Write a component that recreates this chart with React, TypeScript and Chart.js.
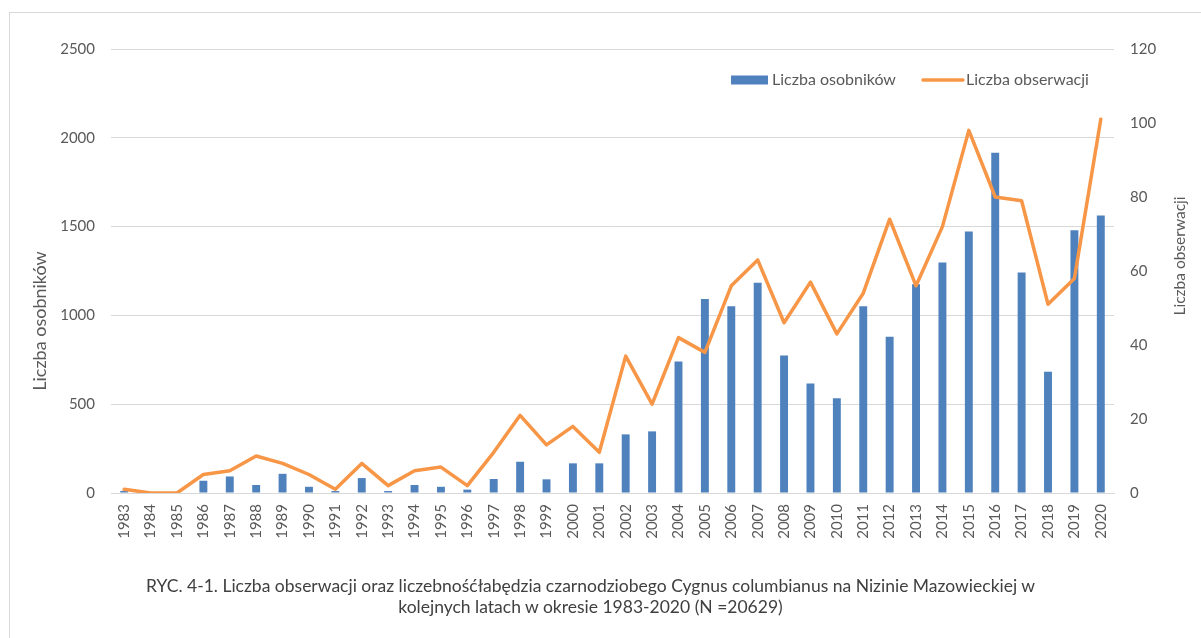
import React, { useEffect, useRef } from "react";
import { Chart, registerables } from "chart.js";

Chart.register(...registerables);

const years: string[] = [
  "1983", "1984", "1985", "1986", "1987", "1988", "1989", "1990", "1991", "1992",
  "1993", "1994", "1995", "1996", "1997", "1998", "1999", "2000", "2001", "2002",
  "2003", "2004", "2005", "2006", "2007", "2008", "2009", "2010", "2011", "2012",
  "2013", "2014", "2015", "2016", "2017", "2018", "2019", "2020",
];

// Liczba osobników (left axis)
const individuals: number[] = [
  12, 0, 0, 69, 93, 45, 108, 35, 11, 84,
  11, 45, 35, 19, 79, 176, 77, 167, 167, 330,
  347, 740, 1092, 1051, 1184, 774, 616, 534, 1051, 880,
  1175, 1298, 1472, 1916, 1242, 683, 1479, 1562,
];

// Liczba obserwacji (right axis)
const observations: number[] = [
  1, 0, 0, 5, 6, 10, 8, 5, 1, 8,
  2, 6, 7, 2, 11, 21, 13, 18, 11, 37,
  24, 42, 38, 56, 63, 46, 57, 43, 54, 74,
  56, 72, 98, 80, 79, 51, 58, 101,
];

const leftTicks = { min: 0, max: 2500, step: 500 };
const rightTicks = { min: 0, max: 120, step: 20 };

const seriesNames = ["Liczba osobników", "Liczba obserwacji"];
const axisTitles = ["Liczba osobników", "Liczba obserwacji"];
const captionLines = [
  "RYC. 4-1. Liczba obserwacji oraz liczebnośćłabędzia czarnodziobego Cygnus columbianus na Nizinie Mazowieckiej w",
  "kolejnych latach w okresie 1983-2020 (N =20629)",
];

const BAR_COLOR = "#4F81BD";
const LINE_COLOR = "#F79646";
const TEXT_COLOR = "#595959";
const GRID_COLOR = "#D9D9D9";
const FONT = "Lato, 'Noto Sans', sans-serif";

const overlayPlugin = {
  id: "overlayTexts",
  afterDraw(chart: any) {
    const { ctx, chartArea } = chart;
    const a = chartArea;
    ctx.save();
    // legend
    ctx.font = `16px ${FONT}`;
    ctx.textBaseline = "middle";
    ctx.textAlign = "left";
    const ly = a.top + 31;
    const lx1 = a.right - 383;
    ctx.fillStyle = BAR_COLOR;
    ctx.fillRect(lx1, ly - 4.5, 37, 9);
    ctx.fillStyle = TEXT_COLOR;
    ctx.fillText(seriesNames[0], lx1 + 41, ly);
    const lx2 = a.right - 191;
    ctx.strokeStyle = LINE_COLOR;
    ctx.lineWidth = 3.5;
    ctx.lineCap = "round";
    ctx.beginPath();
    ctx.moveTo(lx2, ly);
    ctx.lineTo(lx2 + 40, ly);
    ctx.stroke();
    ctx.fillText(seriesNames[1], lx2 + 43, ly);

    // axis titles
    ctx.textAlign = "center";
    ctx.save();
    ctx.font = `18px ${FONT}`;
    ctx.translate(a.left - 71, a.top + 272);
    ctx.rotate(-Math.PI / 2);
    ctx.fillText(axisTitles[0], 0, 0);
    ctx.restore();
    ctx.save();
    ctx.font = `15.5px ${FONT}`;
    ctx.translate(a.right + 66, a.top + 207);
    ctx.rotate(-Math.PI / 2);
    ctx.fillText(axisTitles[1], 0, 0);
    ctx.restore();
    ctx.restore();
  },
};

export default function App() {
  const canvasRef = useRef<HTMLCanvasElement | null>(null);

  useEffect(() => {
    if (!canvasRef.current) return;
    const chart = new Chart(canvasRef.current, {
      type: "bar",
      data: {
        labels: years,
        datasets: [
          {
            type: "line",
            label: seriesNames[1],
            data: observations,
            yAxisID: "y1",
            borderColor: LINE_COLOR,
            backgroundColor: LINE_COLOR,
            borderWidth: 3.5,
            pointRadius: 0,
            tension: 0,
            borderJoinStyle: "round",
            borderCapStyle: "round",
            order: 0,
          } as any,
          {
            type: "bar",
            label: seriesNames[0],
            data: individuals,
            yAxisID: "y",
            backgroundColor: BAR_COLOR,
            categoryPercentage: 1,
            barPercentage: 0.3,
            order: 1,
          } as any,
        ],
      },
      options: {
        responsive: false,
        animation: false,
        devicePixelRatio: 1,
        layout: { padding: { top: 49, left: 0, right: 0, bottom: 0 } },
        plugins: {
          legend: { display: false },
          tooltip: { enabled: false },
          title: { display: false },
        },
        scales: {
          x: {
            offset: true,
            grid: { display: false, drawTicks: false },
            border: { display: true, color: GRID_COLOR, width: 1 },
            ticks: {
              autoSkip: false,
              maxRotation: 90,
              minRotation: 90,
              padding: 11,
              color: TEXT_COLOR,
              font: { family: FONT, size: 15 },
            },
            afterFit: (s: any) => {
              s.height = 145;
            },
          },
          y: {
            position: "left",
            min: leftTicks.min,
            max: leftTicks.max,
            ticks: {
              stepSize: leftTicks.step,
              padding: 16,
              color: TEXT_COLOR,
              font: { family: FONT, size: 15 },
              callback: (v: any) => String(v),
            },
            grid: { color: GRID_COLOR, lineWidth: 1, drawTicks: false },
            border: { display: false },
            afterFit: (s: any) => {
              s.width = 111;
            },
          },
          y1: {
            position: "right",
            min: rightTicks.min,
            max: rightTicks.max,
            ticks: {
              stepSize: rightTicks.step,
              padding: 16,
              color: TEXT_COLOR,
              font: { family: FONT, size: 15 },
              callback: (v: any) => String(v),
            },
            grid: { display: false, drawTicks: false },
            border: { display: false },
            afterFit: (s: any) => {
              s.width = 87;
            },
          },
        },
      } as any,
      plugins: [overlayPlugin],
    });
    return () => chart.destroy();
  }, []);

  return (
    <div
      style={{
        position: "absolute",
        left: 0,
        top: 0,
        width: 1201,
        height: 638,
        overflow: "hidden",
        background: "#fff",
      }}
    >
      <div
        style={{
          position: "absolute",
          left: 9,
          top: 12,
          width: 1400,
          height: 900,
          borderTop: "1px solid #D9D9D9",
          borderLeft: "1px solid #D9D9D9",
        }}
      />
      <canvas
        ref={canvasRef}
        width={1201}
        height={638}
        style={{ position: "absolute", left: 0, top: 0, width: 1201, height: 638 }}
      />
      <div
        style={{
          position: "absolute",
          left: 0,
          top: 575,
          width: 1181,
          textAlign: "center",
          fontFamily: FONT,
          fontSize: 17.5,
          lineHeight: "21px",
          color: "#404040",
        }}
      >
        {captionLines[0]}
        <br />
        {captionLines[1]}
      </div>
    </div>
  );
}
